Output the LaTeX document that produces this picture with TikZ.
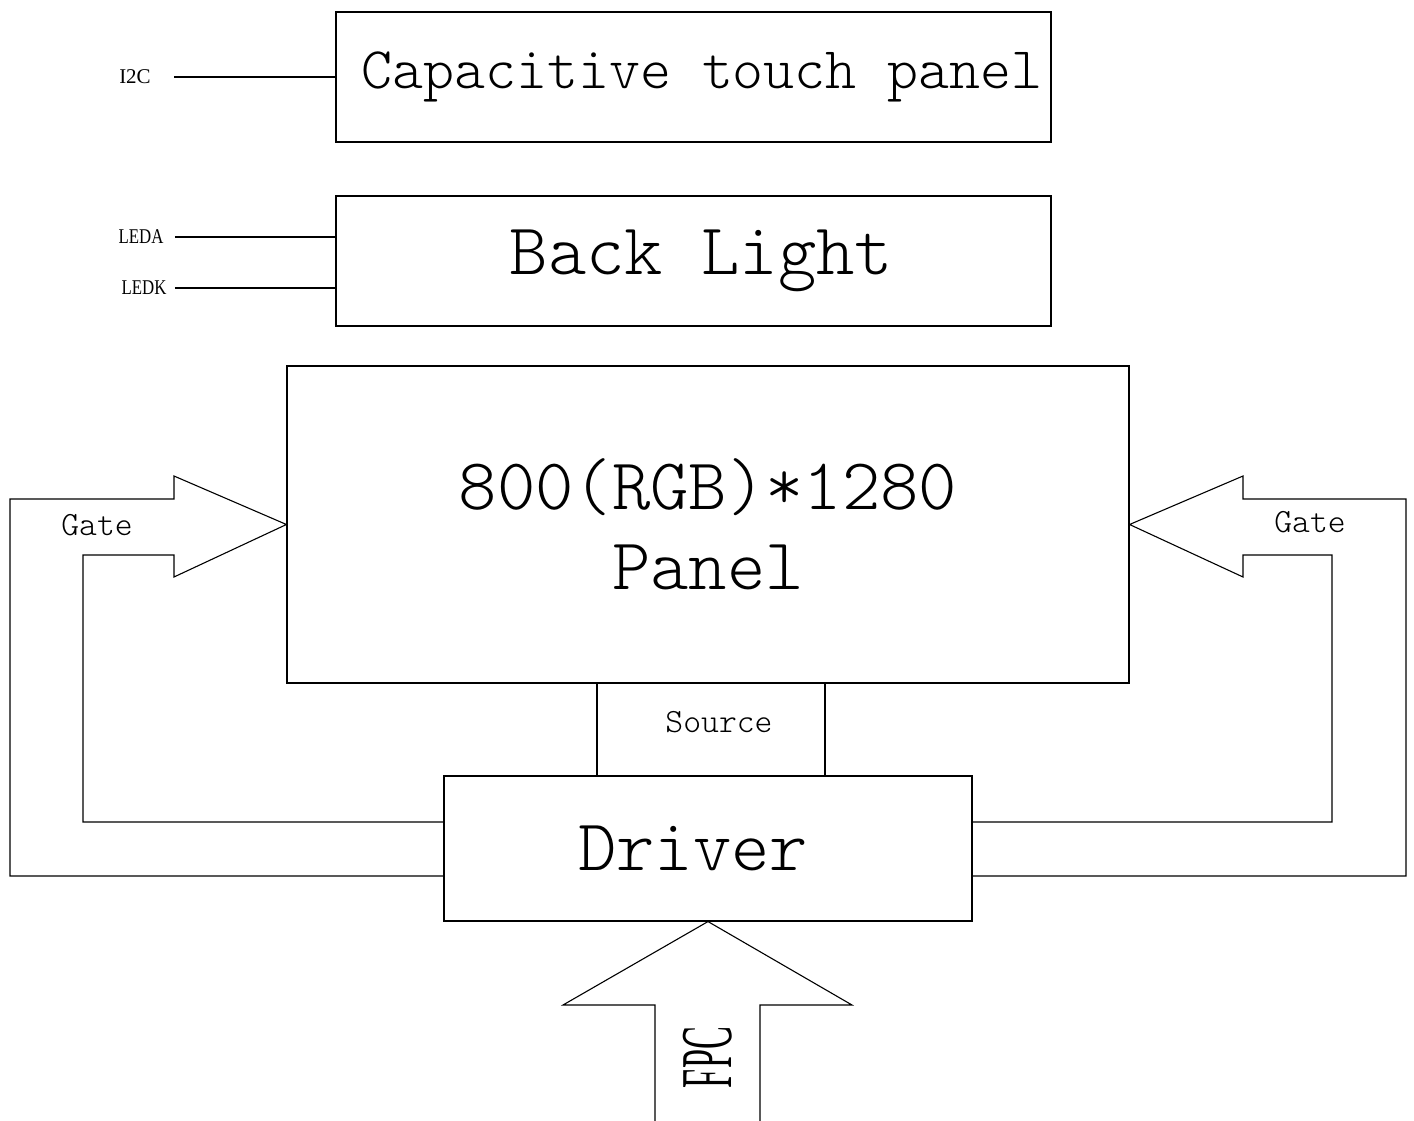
\documentclass[tikz,border=0pt]{standalone}
\usepackage{fontspec}
\setmonofont{Latin Modern Mono Light}
\newfontfamily\pinfont{Liberation Serif}
\begin{document}
\begin{tikzpicture}[x=1pt, y=-1pt, line width=1.1pt,
  box/.style={draw, inner sep=0pt},
  bigtext/.style={font=\ttfamily\fontsize{73}{80}\selectfont},
  midtext/.style={font=\ttfamily\fontsize{34}{34}\selectfont},
  pintext/.style={font=\pinfont\fontsize{21}{21}\selectfont, inner sep=0pt}]
\useasboundingbox (0,0) rectangle (1414,1121);
% blocks
\node (touch) [box, minimum width=715pt, minimum height=130pt,
  font=\ttfamily\fontsize{59}{59}\selectfont] at (693.5,77) {\hspace{17pt}Capacitive touch panel};
\node (bl) [box, bigtext, minimum width=715pt, minimum height=130pt] at (693.5,261) {\hspace{16pt}Back Light};
\node (panel) [box, bigtext, align=center, minimum width=842pt, minimum height=317pt] at (708,524.5) {800(RGB)*1280\\Panel};
\node (drv) [box, bigtext, minimum width=528pt, minimum height=145pt] at (708,848.5) {Driver\hspace{30pt}\null};
% pins
\node (i2c) [pintext] at (135,77) {I2C};
\node (leda) [pintext] at (141,237) {\scalebox{0.8}[1]{LEDA}};
\node (ledk) [pintext] at (144,288) {\scalebox{0.8}[1]{LEDK}};
\draw [shorten <=23pt] (i2c.east) -- (touch.west |- i2c.east);
\draw [shorten <=11pt] (leda.east) -- (bl.west |- leda.east);
\draw [shorten <=8pt] (ledk.east) -- (bl.west |- ledk.east);
% source
\coordinate (srcl) at (597,700);
\coordinate (srcr) at (825,700);
\draw (srcl |- panel.south) -- (srcl |- drv.north);
\draw (srcr |- panel.south) -- (srcr |- drv.north);
\node (src) [midtext] at (719,722.5) {Source};
% gate arrows
\draw ([yshift=-27.5pt]drv.west) -- (10,876) -- (10,499) -- (174,499) -- (174,476) -- (panel.west)
  -- (174,577) -- (174,555) -- (83,555) -- (83,822) -- ([yshift=26.5pt]drv.west);
\draw ([yshift=-27.5pt]drv.east) -- (1406,876) -- (1406,499) -- (1243,499) -- (1243,476) -- (panel.east)
  -- (1243,577) -- (1243,555) -- (1332,555) -- (1332,822) -- ([yshift=26.5pt]drv.east);
\node (gl) [midtext] at (97,525.5) {Gate};
\node (gr) [midtext] at (1310,522) {Gate};
% fpc arrow
\coordinate (fpcl) at (655,1121);
\coordinate (fpcr) at (760,1121);
\draw (fpcl) -- (655,1005) -- (563,1005) -- (drv.south) -- (852,1005) -- (760,1005) -- (fpcr);
\node (fpc) [rotate=90, font=\pinfont\fontsize{73}{73}\selectfont, inner sep=0pt] at (707.5,1057.5) {\scalebox{0.47}[1]{FPC}};
\end{tikzpicture}
\end{document}
